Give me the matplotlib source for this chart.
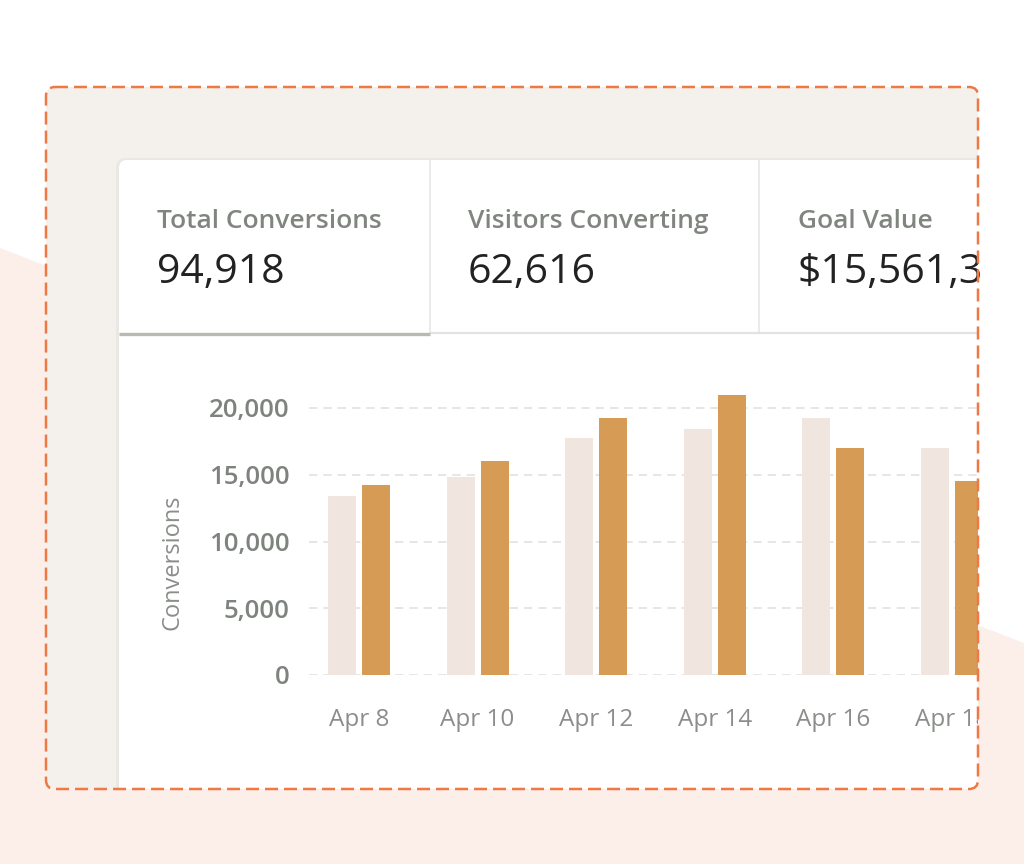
import matplotlib
matplotlib.use("Agg")
import matplotlib.pyplot as plt
from matplotlib.patches import Polygon, FancyBboxPatch, Rectangle
from matplotlib.ticker import FuncFormatter

plt.rcParams['font.family'] = ['Open Sans', 'DejaVu Sans']

# ---- data ----
categories = ["Apr 8", "Apr 10", "Apr 12", "Apr 14", "Apr 16", "Apr 18"]
previous_period = [13400, 14800, 17750, 18400, 19250, 17000]
current_period = [14200, 16000, 19250, 21000, 17000, 14500]
y_ticks = [0, 5000, 10000, 15000, 20000]

kpi_titles = ["Total Conversions", "Visitors Converting", "Goal Value"]
kpi_values = ["94,918", "62,616", "$15,561,3"]

# ---- figure ----
W, H = 1024, 864
fig = plt.figure(figsize=(W / 100, H / 100), dpi=100, facecolor="white")

bg = fig.add_axes([0, 0, 1, 1], zorder=1)
bg.set_xlim(0, W)
bg.set_ylim(H, 0)
bg.axis("off")

# pink backdrop
bg.add_patch(Polygon([(0, 248), (W, 643), (W, H), (0, H)], closed=True,
                     facecolor="#fcefea", edgecolor="none", zorder=0))

# outer card
x0, y0, x1, y1 = 46, 87, 978, 789
outer = FancyBboxPatch((x0, y0), x1 - x0, y1 - y0,
                       boxstyle="round,pad=0,rounding_size=9",
                       facecolor="#f4f1ec", edgecolor="none", zorder=1)
bg.add_patch(outer)

# inner white card (clipped by outer card)
inner_shadow = FancyBboxPatch((116, 158), 900, 700,
                              boxstyle="round,pad=0,rounding_size=10",
                              facecolor="#ebe7e2", edgecolor="none", zorder=2)
bg.add_patch(inner_shadow)
inner_shadow.set_clip_path(outer)
inner = FancyBboxPatch((119, 160), 900, 700,
                       boxstyle="round,pad=0,rounding_size=8",
                       facecolor="white", edgecolor="none", zorder=3)
bg.add_patch(inner)
inner.set_clip_path(outer)

clip_rect = Rectangle((0, 0), x1, H, transform=bg.transData)

# tab separators and underline
for xs in (430, 759):
    bg.plot([xs, xs], [160, 333], color="#e6e6e6", lw=1.2, zorder=4,
            solid_capstyle="butt")
bg.plot([430, x1], [333, 333], color="#e3e3e3", lw=1.6, zorder=4,
        solid_capstyle="butt")
bg.plot([119, 430], [333.5, 333.5], color="#b8bab1", lw=2.4, zorder=5,
        solid_capstyle="butt")

# KPI texts
kpi_x = [157, 468, 798]
for xk, t, v in zip(kpi_x, kpi_titles, kpi_values):
    tt = bg.text(xk, 228, t, fontsize=19, color="#80857f", ha="left",
                 va="baseline", fontweight="semibold", zorder=6)
    vv = bg.text(xk, 283, v, fontsize=29.5, color="#222222", ha="left",
                 va="baseline", zorder=6)
    tt.set_clip_path(clip_rect)
    vv.set_clip_path(clip_rect)

# ---- bar chart axes ----
cx0 = 359.0     # pixel centre of first category
step = 118.6    # pixel spacing between categories
ax_left_px, ax_right_px = 309, x1
ax_bottom_px, ax_top_px = 675, 380
px_per_unit = (675 - 408) / 20000.0

ax = fig.add_axes([ax_left_px / W, (H - ax_bottom_px) / H,
                   (ax_right_px - ax_left_px) / W,
                   (ax_bottom_px - ax_top_px) / H], zorder=2)
ax.set_facecolor("none")
ax.set_xlim((ax_left_px - cx0) / step, (ax_right_px - cx0) / step)
ax.set_ylim(0, (ax_bottom_px - ax_top_px) / px_per_unit)

xpos = list(range(len(categories)))
bw = 28 / step
off = 17 / step
ax.bar([x - off for x in xpos], previous_period, width=bw, color="#f0e5df",
       zorder=3)
ax.bar([x + off for x in xpos], current_period, width=bw, color="#d69b55",
       zorder=3)

for s in ax.spines.values():
    s.set_visible(False)
ax.set_yticks(y_ticks)
ax.yaxis.set_major_formatter(FuncFormatter(lambda v, p: f"{int(v):,}"))
ax.tick_params(axis="y", length=0, pad=14, labelsize=18.5, labelcolor="#7f837e")
for lbl in ax.get_yticklabels():
    lbl.set_fontweight("semibold")
ax.set_xticks(xpos, categories)
ax.tick_params(axis="x", length=0, pad=24, labelsize=17.5, labelcolor="#8a8e89")
for lbl in ax.get_xticklabels():
    lbl.set_clip_path(clip_rect)

ax.grid(axis="y", color="#e2e2e2", lw=1.2, linestyle=(0, (5.0, 3.6)), zorder=0)
ax.set_axisbelow(True)

ax.set_ylabel("Conversions", fontsize=17, color="#8a8e89")
ax.yaxis.set_label_coords((184 - ax_left_px) / (ax_right_px - ax_left_px),
                          (ax_bottom_px - 562) / (ax_bottom_px - ax_top_px))

# ---- dashed border on top ----
fg = fig.add_axes([0, 0, 1, 1], zorder=3)
fg.set_xlim(0, W)
fg.set_ylim(H, 0)
fg.axis("off")
fg.patch.set_alpha(0)
fg.add_patch(FancyBboxPatch((x0, y0), x1 - x0, y1 - y0,
                            boxstyle="round,pad=0,rounding_size=9",
                            facecolor="none", edgecolor="#ee7944", lw=1.8,
                            linestyle=(0, (5.2, 2.4))))

fig.savefig("out.png", dpi=100, facecolor="white")
